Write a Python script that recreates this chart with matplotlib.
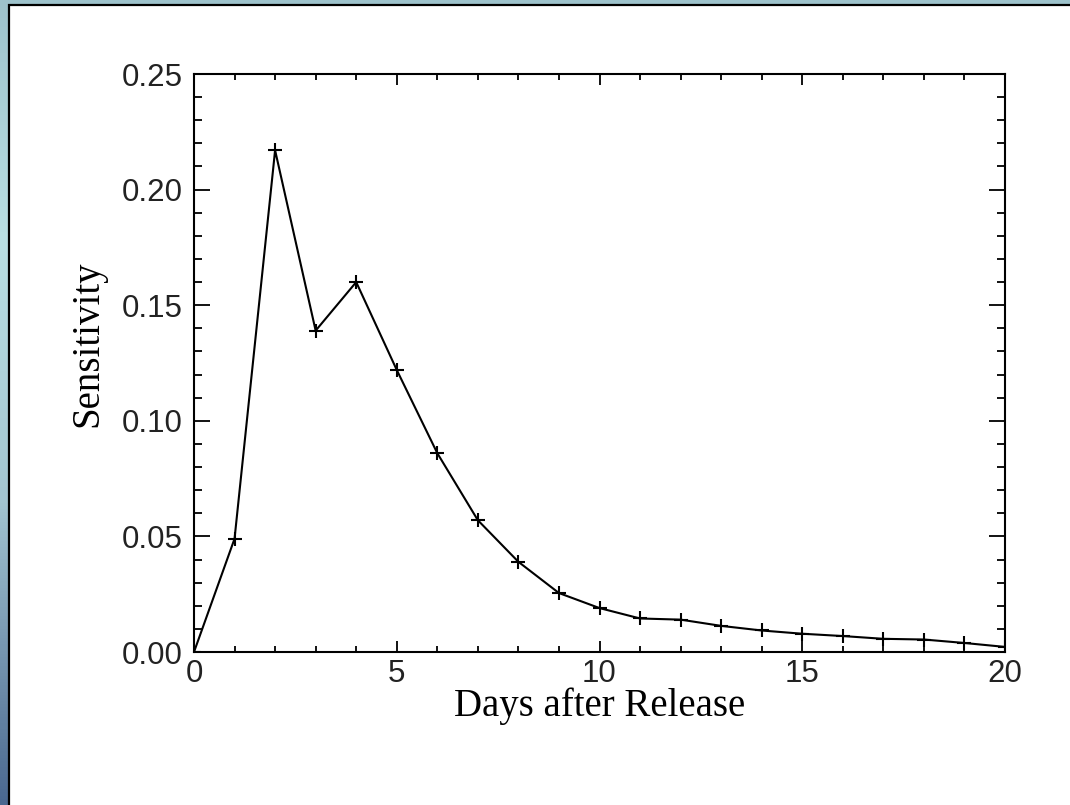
import matplotlib.pyplot as plt
import numpy as np
from matplotlib.colors import LinearSegmentedColormap
from matplotlib.patches import Rectangle

# data
days = list(range(0, 21))
sensitivity = [0.0, 0.049, 0.217, 0.139, 0.160, 0.122, 0.086, 0.057, 0.039, 0.0255,
               0.019, 0.0145, 0.014, 0.0113, 0.0093, 0.0079, 0.0069, 0.0057, 0.0054,
               0.0039, 0.0022]
x_ticks = [0, 5, 10, 15, 20]
y_ticks = [0.00, 0.05, 0.10, 0.15, 0.20, 0.25]
y_tick_labels = ["0.00", "0.05", "0.10", "0.15", "0.20", "0.25"]

W, H = 1070, 805
fig = plt.figure(figsize=(W / 100, H / 100), dpi=100)

# gradient frame behind the white panel
bg = fig.add_axes([0, 0, 1, 1], zorder=-2)
frame_cmap = LinearSegmentedColormap.from_list(
    "frame", [(0.0, "#9ec3cc"), (0.3, "#b9dfe3"), (0.62, "#a3c5d1"), (1.0, "#4a6890")]
)
grad = np.linspace(0, 1, 256).reshape(-1, 1)
bg.imshow(grad, cmap=frame_cmap, aspect="auto", extent=[0, 1, 0, 1], origin="upper")
bg.set_axis_off()

fig.patches.append(
    Rectangle((9 / W, -0.05), 1.1, 1 - 5 / H + 0.05, transform=fig.transFigure,
              facecolor="white", edgecolor="black", linewidth=1.6, zorder=-1)
)

ax = fig.add_axes([194 / W, (H - 652) / H, (1005 - 194) / W, (652 - 74) / H])
ax.plot(days, sensitivity, color="black", linewidth=1.5, marker="+",
        markersize=9.5, markeredgewidth=1.5)

ax.set_xlim(0, 20)
ax.set_ylim(0, 0.25)
ax.set_xticks(x_ticks)
ax.set_xticks(np.arange(0, 21, 1), minor=True)
ax.set_yticks(y_ticks)
ax.set_yticklabels(y_tick_labels)
ax.set_yticks(np.arange(0, 0.2501, 0.01), minor=True)

ax.tick_params(which="both", direction="in", top=True, right=True, width=1.3,
               labelsize=22.5, colors="black")
ax.tick_params(axis="x", which="major", length=8, pad=5)
ax.tick_params(axis="x", which="minor", length=4.3)
ax.tick_params(axis="y", which="major", length=11.5, pad=8)
ax.tick_params(axis="y", which="minor", length=5.8)
for lbl in ax.get_xticklabels() + ax.get_yticklabels():
    lbl.set_family("Liberation Sans")
    lbl.set_color("#222222")
for sp in ax.spines.values():
    sp.set_linewidth(1.5)

ax.set_xlabel("Days after Release", family="Liberation Serif", fontsize=28)
ax.set_ylabel("Sensitivity", family="Liberation Serif", fontsize=28)
ax.xaxis.set_label_coords(0.5006, -0.061)
ax.yaxis.set_label_coords(-0.1085, 0.533)

fig.savefig("out.png", dpi=100)
